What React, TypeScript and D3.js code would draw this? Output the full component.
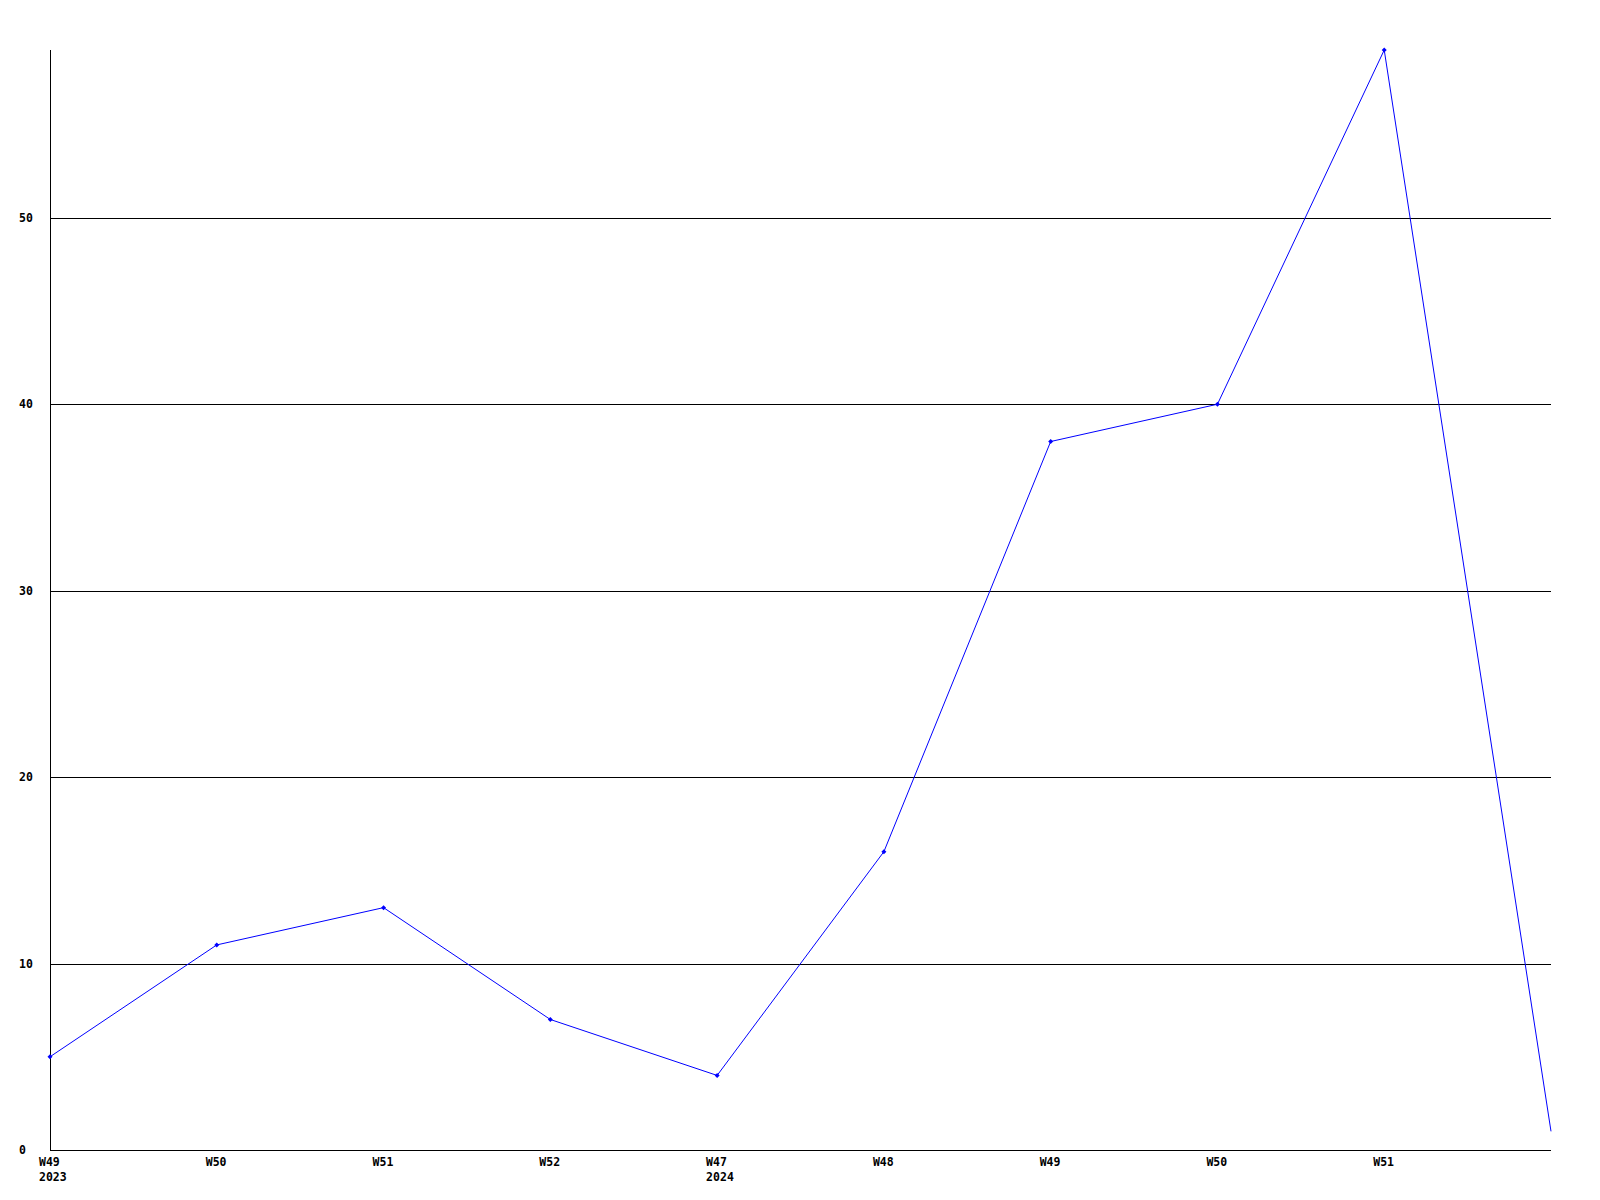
import React from "react";
import * as d3 from "d3";

const weeks = ["W49", "W50", "W51", "W52", "W47", "W48", "W49", "W50", "W51", ""];
const years = ["2023", "", "", "", "2024", "", "", "", "", ""];
const values = [5, 11, 13, 7, 4, 16, 38, 40, 59, 1];
const yTicks = [0, 10, 20, 30, 40, 50];

export default function App() {
  const W = 1600, H = 1200;
  const left = 50, right = 1551, top = 50, bottom = 1150;
  const x = d3.scaleLinear().domain([0, values.length - 1]).range([left, right]);
  const y = d3.scaleLinear().domain([0, d3.max(values) as number]).range([bottom, top]);
  const line = d3.line<number>().x((_, i) => x(i)).y((d) => y(d));
  const font = "'DejaVu Sans Mono', monospace";
  return (
    <svg width={W} height={H} style={{ position: "absolute", left: 0, top: 0, background: "#fff" }}>
      <rect x={0} y={0} width={W} height={H} fill="#fff" />
      {yTicks.map((t) => (
        <g key={t}>
          <line x1={left} x2={right} y1={Math.round(y(t)) + 0.5} y2={Math.round(y(t)) + 0.5} stroke="#000" strokeWidth={1} shapeRendering="crispEdges" />
          <text x={19} y={y(t)} dy="0.35em" fontFamily={font} fontWeight="bold" fontSize={11.5} fill="#000">{t}</text>
        </g>
      ))}
      <line x1={left + 0.5} x2={left + 0.5} y1={top} y2={bottom + 1} stroke="#000" strokeWidth={1} shapeRendering="crispEdges" />
      {weeks.map((w, i) => (
        <g key={i}>
          {w && <text x={x(i) - 11} y={1166} fontFamily={font} fontWeight="bold" fontSize={11.5} fill="#000">{w}</text>}
          {years[i] && <text x={x(i) - 11} y={1181} fontFamily={font} fontWeight="bold" fontSize={11.5} fill="#000">{years[i]}</text>}
        </g>
      ))}
      <path d={line(values) || ""} fill="none" stroke="#0000ff" strokeWidth={1} />
      {values.slice(0, values.length - 1).map((v, i) => (
        <path key={i} d={`M${x(i)},${y(v) - 2.5}L${x(i) + 2.5},${y(v)}L${x(i)},${y(v) + 2.5}L${x(i) - 2.5},${y(v)}Z`} fill="#0000ff" />
      ))}
    </svg>
  );
}
